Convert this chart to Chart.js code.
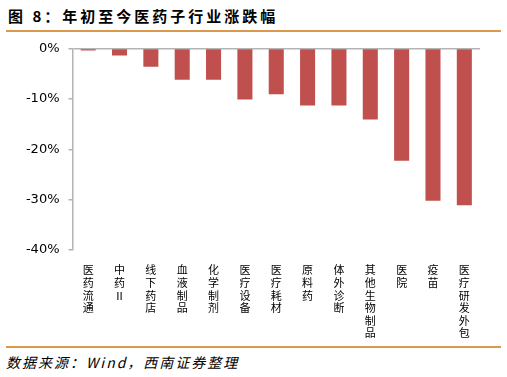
<!DOCTYPE html>
<html>
<head>
<meta charset="utf-8">
<script src="https://cdn.jsdelivr.net/npm/chart.js@4.4.0/dist/chart.umd.min.js"></script>
<style>
    body { margin: 0; background: #fff; width: 507px; height: 377px; position: relative; overflow: hidden; }
    #title { position: absolute; left: 8px; top: 5px; font: bold 15px "Noto Sans CJK SC", sans-serif; letter-spacing: 3px; color: #000; }
    .rule { position: absolute; left: 6px; width: 495px; height: 2px; background: #d99a4e; }
    #source { position: absolute; left: 6px; top: 352px; font: italic 14px "Noto Sans CJK SC", sans-serif; letter-spacing: 2px; color: #000; }
    #wrap { position: absolute; left: 0; top: 30px; width: 507px; height: 310px; }
</style>
</head>
<body>
<div id="title">图 8：年初至今医药子行业涨跌幅</div>
<div class="rule" style="top:30px"></div>
<div id="wrap"><canvas id="chart-bar"></canvas></div>
<div class="rule" style="top:346px"></div>
<div id="source">数据来源：Wind，西南证券整理</div>

<script>
// categories + values (%)
let categories = ['医药流通', '中药Ⅱ', '线下药店', '血液制品', '化学制剂', '医疗设备', '医疗耗材',
    '原料药', '体外诊断', '其他生物制品', '医院', '疫苗', '医疗研发外包'];
let changes = [-0.4, -1.4, -3.6, -6.2, -6.2, -10.1, -9.1, -11.3, -11.3, -14.1, -22.3, -30.2, -31.1];
let y_ticks = [0, -10, -20, -30, -40];

// vertical labels: one char per line
let labels = categories.map(function (c) { return Array.from(c); });

new Chart(
    document.getElementById('chart-bar'),
    {
        type: 'bar',
        data: {
            labels: labels,
            datasets: [{
                data: changes,
                backgroundColor: '#c0504d',
                barPercentage: 0.48,
                categoryPercentage: 1
            }]
        },
        options: {
            responsive: true,
            maintainAspectRatio: false,
            animation: false,
            layout: { padding: { top: 18.5, right: 27, left: 6, bottom: 0 } },
            plugins: { legend: { display: false }, tooltip: { enabled: false } },
            scales: {
                x: {
                    grid: { display: false },
                    border: { display: false },
                    ticks: {
                        maxRotation: 0, minRotation: 0, autoSkip: false, padding: 6,
                        color: '#000',
                        font: { family: '"Noto Sans CJK SC"', size: 11, lineHeight: 1.14 }
                    },
                    afterFit: function (s) { s.height = 90; }
                },
                y: {
                    min: -40, max: 0,
                    afterBuildTicks: function (s) { s.ticks = y_ticks.map(function (v) { return { value: v }; }); },
                    grid: {
                        drawOnChartArea: true,
                        color: function (ctx) { return ctx.tick && ctx.tick.value === 0 ? '#b4b4b4' : 'rgba(0,0,0,0)'; },
                        tickColor: '#b4b4b4',
                        tickLength: 4,
                        lineWidth: 1.5
                    },
                    border: { display: true, color: '#b4b4b4', width: 1.5 },
                    ticks: {
                        padding: 9,
                        color: '#000',
                        font: { family: '"DejaVu Sans"', size: 13 },
                        callback: function (v) { return v + '%'; }
                    },
                    afterFit: function (s) { s.width = 66.5; }
                }
            }
        }
    }
);
</script>
</body>
</html>
